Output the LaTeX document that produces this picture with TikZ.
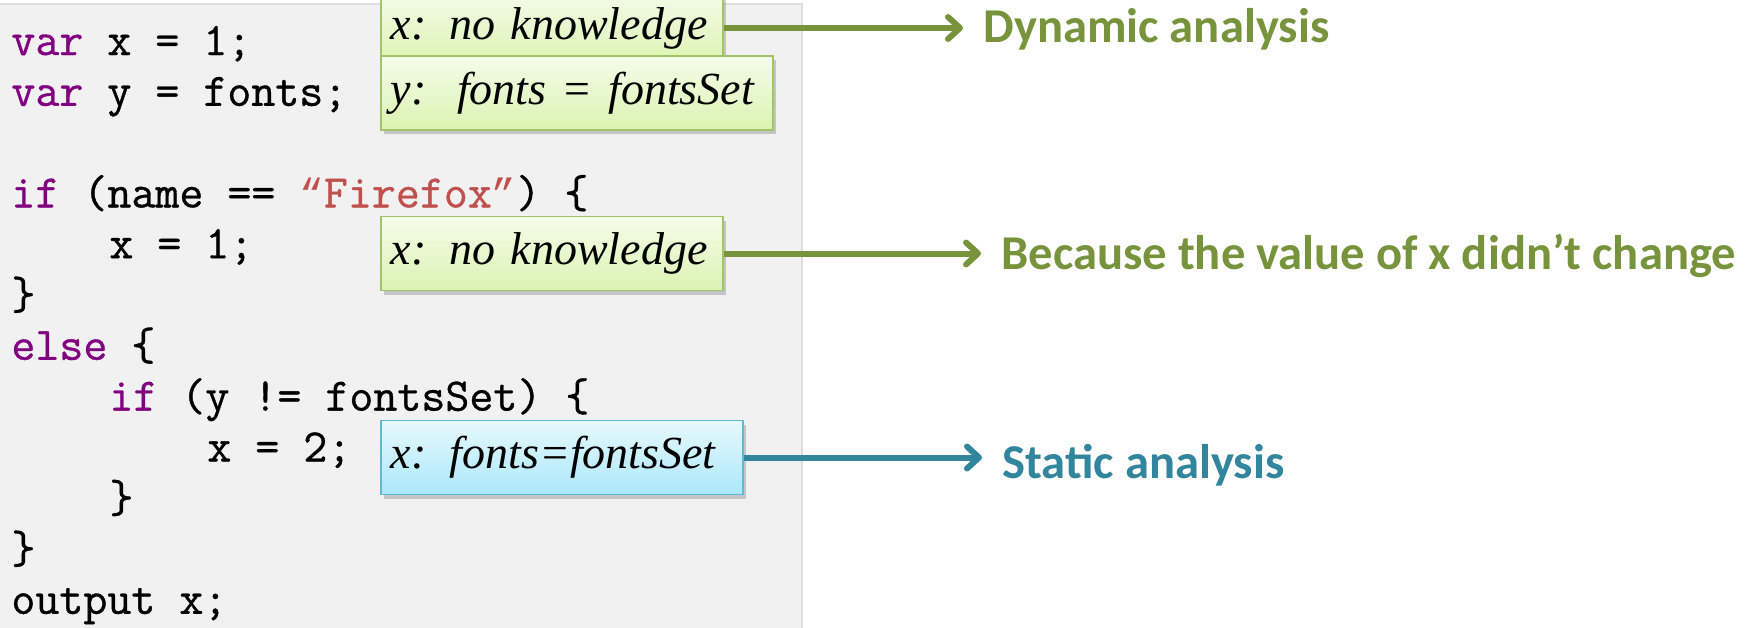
\documentclass[tikz,border=0pt]{standalone}
\usepackage{fontspec}
\usepackage{tikz}
\usetikzlibrary{arrows.meta,shadows}

\newfontfamily\codefont{Latin Modern Mono}[FakeBold=0.8]
\newfontfamily\quotefont{Liberation Mono}
\newfontfamily\notefont{Liberation Serif}
\newfontfamily\outfont{Carlito}

\definecolor{kwpurple}{HTML}{800080}
\definecolor{strred}{HTML}{C0504D}
\definecolor{panelgray}{HTML}{F1F1F1}
\definecolor{paneledge}{HTML}{DEDEDE}
\definecolor{dyngreen}{HTML}{77933C}
\definecolor{greenedge}{HTML}{A3C466}
\definecolor{greentop}{HTML}{F5FCE9}
\definecolor{greenbot}{HTML}{DBF3B2}
\definecolor{statblue}{HTML}{31859C}
\definecolor{blueedge}{HTML}{5BBAD5}
\definecolor{bluetop}{HTML}{E6F9FE}
\definecolor{bluebot}{HTML}{ABE7F9}

\newcommand{\kw}[1]{\textcolor{kwpurple}{#1}}
\newcommand{\strlit}[1]{\textcolor{strred}{#1}}
\newcommand{\cq}[1]{{\quotefont\fontsize{20.4}{26}\selectfont #1}}

\tikzset{
  code/.style={anchor=base west, inner sep=0pt, font=\codefont\fontsize{23.3}{26}\selectfont},
  note/.style={anchor=west, draw=greenedge, line width=0.8pt, top color=greentop, bottom color=greenbot,
    minimum height=37pt, inner xsep=5pt, align=left, font=\notefont\itshape\fontsize{23}{28}\selectfont,
    drop shadow={shadow xshift=1.5pt, shadow yshift=-2pt, fill=black, opacity=0.18}},
  statnote/.style={note, draw=blueedge, top color=bluetop, bottom color=bluebot},
  outcome/.style={anchor=base west, inner sep=0pt, font=\outfont\bfseries\fontsize{24.3}{28}\selectfont},
  flow/.style={line width=3pt, -{Straight Barb[length=6pt,width=11pt,round]}, shorten >=10pt}
}

\begin{document}
\begin{tikzpicture}[x=0.5pt,y=-0.5pt]
  \useasboundingbox (0,0) rectangle (1746,627);
  % code panel
  \fill[panelgray] (0,4) rectangle (802,640);
  \draw[paneledge, line width=0.8pt] (0,4) -- (802,4) -- (802,640);

  \foreach \ln/\ind/\txt in {
      0/0/{\kw{var} x = 1;},
      1/0/{\kw{var} y = fonts;},
      3/0/{\kw{if} (name == \strlit{\cq{“}Firefox\cq{”}}) \{},
      4/4/{x = 1;},
      5/0/{\}},
      6/0/{\kw{else} \{},
      7/4/{\kw{if} (y != fontsSet) \{},
      8/8/{x = 2;},
      9/4/{\}},
      10/0/{\}},
      11/0/{output x;}} {
    \node[code] (line\ln) at ({11+24.5*\ind},{55+50.8*\ln}) {\txt};
  }

  % annotations
  \node[note, text width=161pt] (dynx) at (380,28) {x: no knowledge};
  \node[note, text width=186pt] (dyny) at (380,93) {y:~~fonts = fontsSet};
  \node[note, text width=161pt] (samex) at (380,253.5) {x: no knowledge};
  \node[statnote, text width=171pt] (statx) at (380,457.5) {x: fonts=fontsSet};

  \node[outcome, text=dyngreen] (dynout) at (983,42) {Dynamic analysis};
  \node[outcome, text=dyngreen] (sameout) at (1001,269) {Because the value of x didn’t change};
  \node[outcome, text=statblue] (statout) at (1002,478) {Static analysis};

  \draw[flow, dyngreen] (dynx.east) -- (dynx.east -| dynout.west);
  \draw[flow, dyngreen] (samex.east) -- (samex.east -| sameout.west);
  \draw[flow, statblue] (statx.east) -- (statx.east -| statout.west);
\end{tikzpicture}
\end{document}
